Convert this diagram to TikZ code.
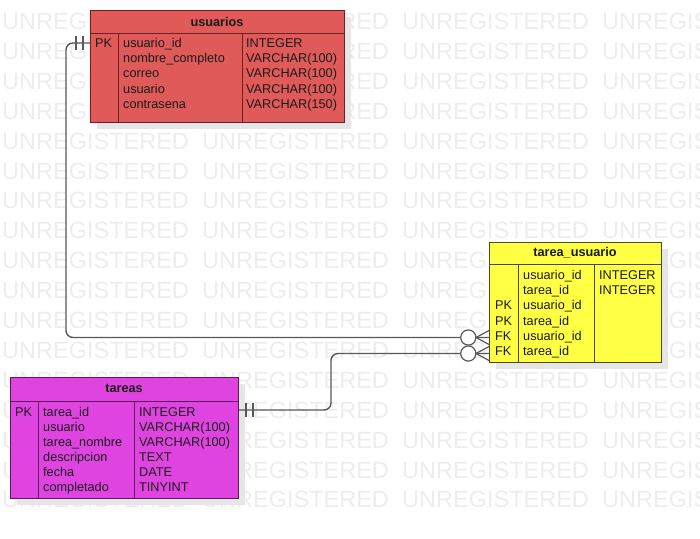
\documentclass[tikz,border=0pt]{standalone}
\usepackage{fontspec}
\setmainfont{Liberation Sans}
\definecolor{wm}{HTML}{EDEDED}
\definecolor{shadowc}{HTML}{E6E6E6}
\definecolor{ufill}{HTML}{E05A5A}
\definecolor{uline}{HTML}{6A2222}
\definecolor{tufill}{HTML}{FFFF44}
\definecolor{tuline}{HTML}{4A4A22}
\definecolor{tfill}{HTML}{E044E0}
\definecolor{tline}{HTML}{5A1A5A}
\definecolor{connc}{HTML}{585858}
\definecolor{txt}{HTML}{1A1A1A}
\begin{document}
\begin{tikzpicture}[x=1pt,y=-1pt,
  wmark/.style={anchor=west,inner sep=0pt,text=wm,font=\fontsize{23.5}{24}\selectfont},
  shadowbox/.style={fill=shadowc,draw=none},
  tbl/.style={rectangle,anchor=north west,inner sep=0pt,line width=1pt},
  cell/.style={anchor=base west,inner sep=0pt,text=txt,font=\fontsize{12.7}{15}\selectfont},
  title/.style={inner sep=0pt,text=txt,font=\fontsize{12.7}{15}\selectfont\bfseries},
  connector/.style={draw=connc,line width=1.4pt},
  tick/.style={draw=connc,line width=1.4pt},
]
\useasboundingbox (0,0) rectangle (700,538);
% watermark
\foreach \k in {0,...,16}{
  \foreach \xx in {2,202,402,602}{
    \node[wmark] at (\xx,21.5+29.9*\k) {UNREGISTERED};
  }
}
% shadows
\fill[shadowbox] (97,17) rectangle (351,129);
\fill[shadowbox] (496,249) rectangle (668,369);
\fill[shadowbox] (17,384) rectangle (245,505);

% ---------- usuarios ----------
\node[tbl,fill=ufill,draw=uline,minimum width=254pt,minimum height=112pt] (usuarios) at (90,10) {};
\draw[uline,line width=1pt] (90,33) -- (344,33) (118,33) -- (118,122) (242,33) -- (242,122);
\node[title] (usuariosT) at (217,21.5) {usuarios};
\node[cell] (u0k) at (95,47.5) {PK};
\node[cell] (u0n) at (123,47.5) {usuario\_id};
\node[cell] (u1n) at (123,62.7) {nombre\_completo};
\node[cell] (u2n) at (123,77.9) {correo};
\node[cell] (u3n) at (123,93.1) {usuario};
\node[cell] (u4n) at (123,108.3) {contrasena};
\node[cell] (u0t) at (246,47.5) {INTEGER};
\node[cell] (u1t) at (246,62.7) {VARCHAR(100)};
\node[cell] (u2t) at (246,77.9) {VARCHAR(100)};
\node[cell] (u3t) at (246,93.1) {VARCHAR(100)};
\node[cell] (u4t) at (246,108.3) {VARCHAR(150)};

% ---------- tarea_usuario ----------
\node[tbl,fill=tufill,draw=tuline,minimum width=172pt,minimum height=120pt] (tareausuario) at (489,242) {};
\draw[tuline,line width=1pt] (489,264) -- (661,264) (518,264) -- (518,362) (594,264) -- (594,362);
\node[title] (tuT) at (575,253) {tarea\_usuario};
\node[cell] (tu0n) at (523,279.5) {usuario\_id};
\node[cell] (tu1n) at (523,294.7) {tarea\_id};
\node[cell] (tu2n) at (523,309.9) {usuario\_id};
\node[cell] (tu3n) at (523,325.1) {tarea\_id};
\node[cell] (tu4n) at (523,340.3) {usuario\_id};
\node[cell] (tu5n) at (523,355.5) {tarea\_id};
\node[cell] (tu2k) at (495,309.9) {PK};
\node[cell] (tu3k) at (495,325.1) {PK};
\node[cell] (tu4k) at (495,340.3) {FK};
\node[cell] (tu5k) at (495,355.5) {FK};
\node[cell] (tu0t) at (599,279.5) {INTEGER};
\node[cell] (tu1t) at (599,294.7) {INTEGER};

% ---------- tareas ----------
\node[tbl,fill=tfill,draw=tline,minimum width=228pt,minimum height=121pt] (tareas) at (10,377) {};
\draw[tline,line width=1pt] (10,401) -- (238,401) (38,401) -- (38,498) (134,401) -- (134,498);
\node[title] (tareasT) at (124,388.5) {tareas};
\node[cell] (t0k) at (15,416) {PK};
\node[cell] (t0n) at (43,416) {tarea\_id};
\node[cell] (t1n) at (43,431) {usuario};
\node[cell] (t2n) at (43,446) {tarea\_nombre};
\node[cell] (t3n) at (43,461) {descripcion};
\node[cell] (t4n) at (43,476) {fecha};
\node[cell] (t5n) at (43,491) {completado};
\node[cell] (t0t) at (139,416) {INTEGER};
\node[cell] (t1t) at (139,431) {VARCHAR(100)};
\node[cell] (t2t) at (139,446) {VARCHAR(100)};
\node[cell] (t3t) at (139,461) {TEXT};
\node[cell] (t4t) at (139,476) {DATE};
\node[cell] (t5t) at (139,491) {TINYINT};

% ---------- connectors ----------
\coordinate (upk) at (usuarios.west |- 0,43);
\coordinate (tufk1) at (tareausuario.west |- 0,337.5);
\coordinate (tpk) at (tareas.east |- 0,410);
\coordinate (tufk2) at (tareausuario.west |- 0,353.5);

\draw[connector,rounded corners=7pt] (upk) -- ++(-24,0) |- (tufk1);
\draw[connector,rounded corners=7pt] (tpk) -- ++(92,0) |- (tufk2);

% mandatory one ticks
\draw[tick] ([shift={(-7,-7)}]upk) -- ++(0,14);
\draw[tick] ([shift={(-14,-7)}]upk) -- ++(0,14);
\draw[tick] ([shift={(7,-7)}]tpk) -- ++(0,14);
\draw[tick] ([shift={(14,-7)}]tpk) -- ++(0,14);

% optional many ends
\foreach \c in {tufk1,tufk2}{
  \draw[connector,line width=1.2pt] ([shift={(-13,0)}]\c) -- ([shift={(0,-7)}]\c)
        ([shift={(-13,0)}]\c) -- ([shift={(0,7)}]\c);
  \draw[connector,line width=1.2pt,fill=white] ([shift={(-20.7,0)}]\c) circle (7.6pt);
}
\end{tikzpicture}
\end{document}
